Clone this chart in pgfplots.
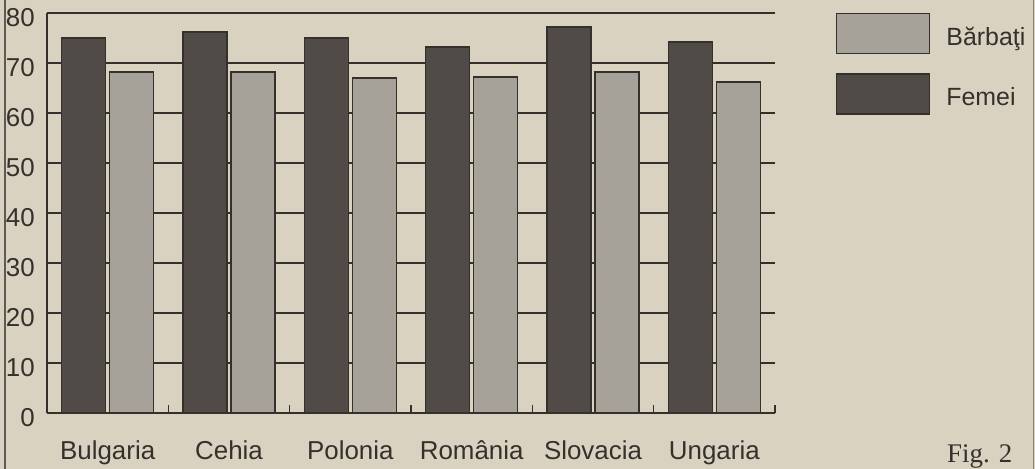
\documentclass[border=0pt]{standalone}
\usepackage{pgfplots}
\pgfplotsset{compat=1.18}
\usepackage{fontspec}
\setmainfont{Liberation Sans}
\newfontfamily\seriffont{Liberation Serif}
\definecolor{paper}{RGB}{218,210,193}
\definecolor{ink}{RGB}{52,48,44}
\definecolor{darkbar}{RGB}{80,75,70}
\definecolor{lightbar}{RGB}{166,161,153}
\begin{document}
\begin{tikzpicture}
\fill[paper] (0,0) rectangle (1035bp,469bp);
\useasboundingbox (0,0) rectangle (1035bp,469bp);
\draw[ink!80, line width=1.2bp] (5bp,0) -- (5bp,469bp);
\draw[ink!60, line width=1bp] (1033bp,0) -- (1033bp,469bp);
\begin{axis}[
  at={(47bp,56bp)}, anchor=south west,
  scale only axis, width=728bp, height=400bp,
  xmin=-0.5, xmax=5.5, ymin=0, ymax=80,
  ybar=4bp, bar width=44bp,
  axis lines=left, axis line style={-, ink, line width=1.6bp},
  ytick={0,10,...,80},
  xtick={0,...,5},
  xticklabels={Bulgaria,Cehia,Polonia,România,Slovacia,Ungaria},
  major tick length=0pt,
  ymajorgrids, grid style={ink, line width=1.6bp},
  /pgf/number format/assume math mode=true,
  tick label style={font=\fontsize{26}{30}\selectfont, text=ink, inner sep=0pt},
  yticklabel style={anchor=east, xshift=-12bp, yshift=-5bp},
  xticklabel style={anchor=base, yshift=-46bp},
  extra x ticks={0.5,1.5,2.5,3.5,4.5,5.5},
  extra x tick labels={},
  extra x tick style={major tick length=8bp, xtick align=inside, grid=none, tick style={ink, line width=1.6bp}},
  reverse legend,
  legend style={at={(1.0838,1)}, anchor=north west, draw=none, fill=none,
    font=\fontsize{25}{30}\selectfont, text=ink, inner sep=0pt, outer sep=0pt,
    row sep=19bp, column sep=16bp,
    nodes={inner sep=0pt}},
  legend cell align=left,
]
\addplot[fill=darkbar, draw=ink, line width=1.4bp,
  legend image code/.code={\filldraw[fill=darkbar, draw=ink, line width=1.4bp] (0bp,-17bp) rectangle (93bp,23bp);}]
  coordinates {(0,75) (1,76.2) (2,75) (3,73.2) (4,77.2) (5,74.2)};
\addlegendentry{Femei}
\addplot[fill=lightbar, draw=ink, line width=1.4bp,
  legend image code/.code={\filldraw[fill=lightbar, draw=ink, line width=1.4bp] (0bp,-17bp) rectangle (93bp,23bp);}]
  coordinates {(0,68.2) (1,68.2) (2,67) (3,67.2) (4,68.2) (5,66.2)};
\addlegendentry{Bărbaţi}
\end{axis}
\node[anchor=base west, inner sep=0pt, font=\seriffont\fontsize{27}{30}\selectfont, text=ink] at (947bp,7bp) {Fig. 2};
\end{tikzpicture}
\end{document}
